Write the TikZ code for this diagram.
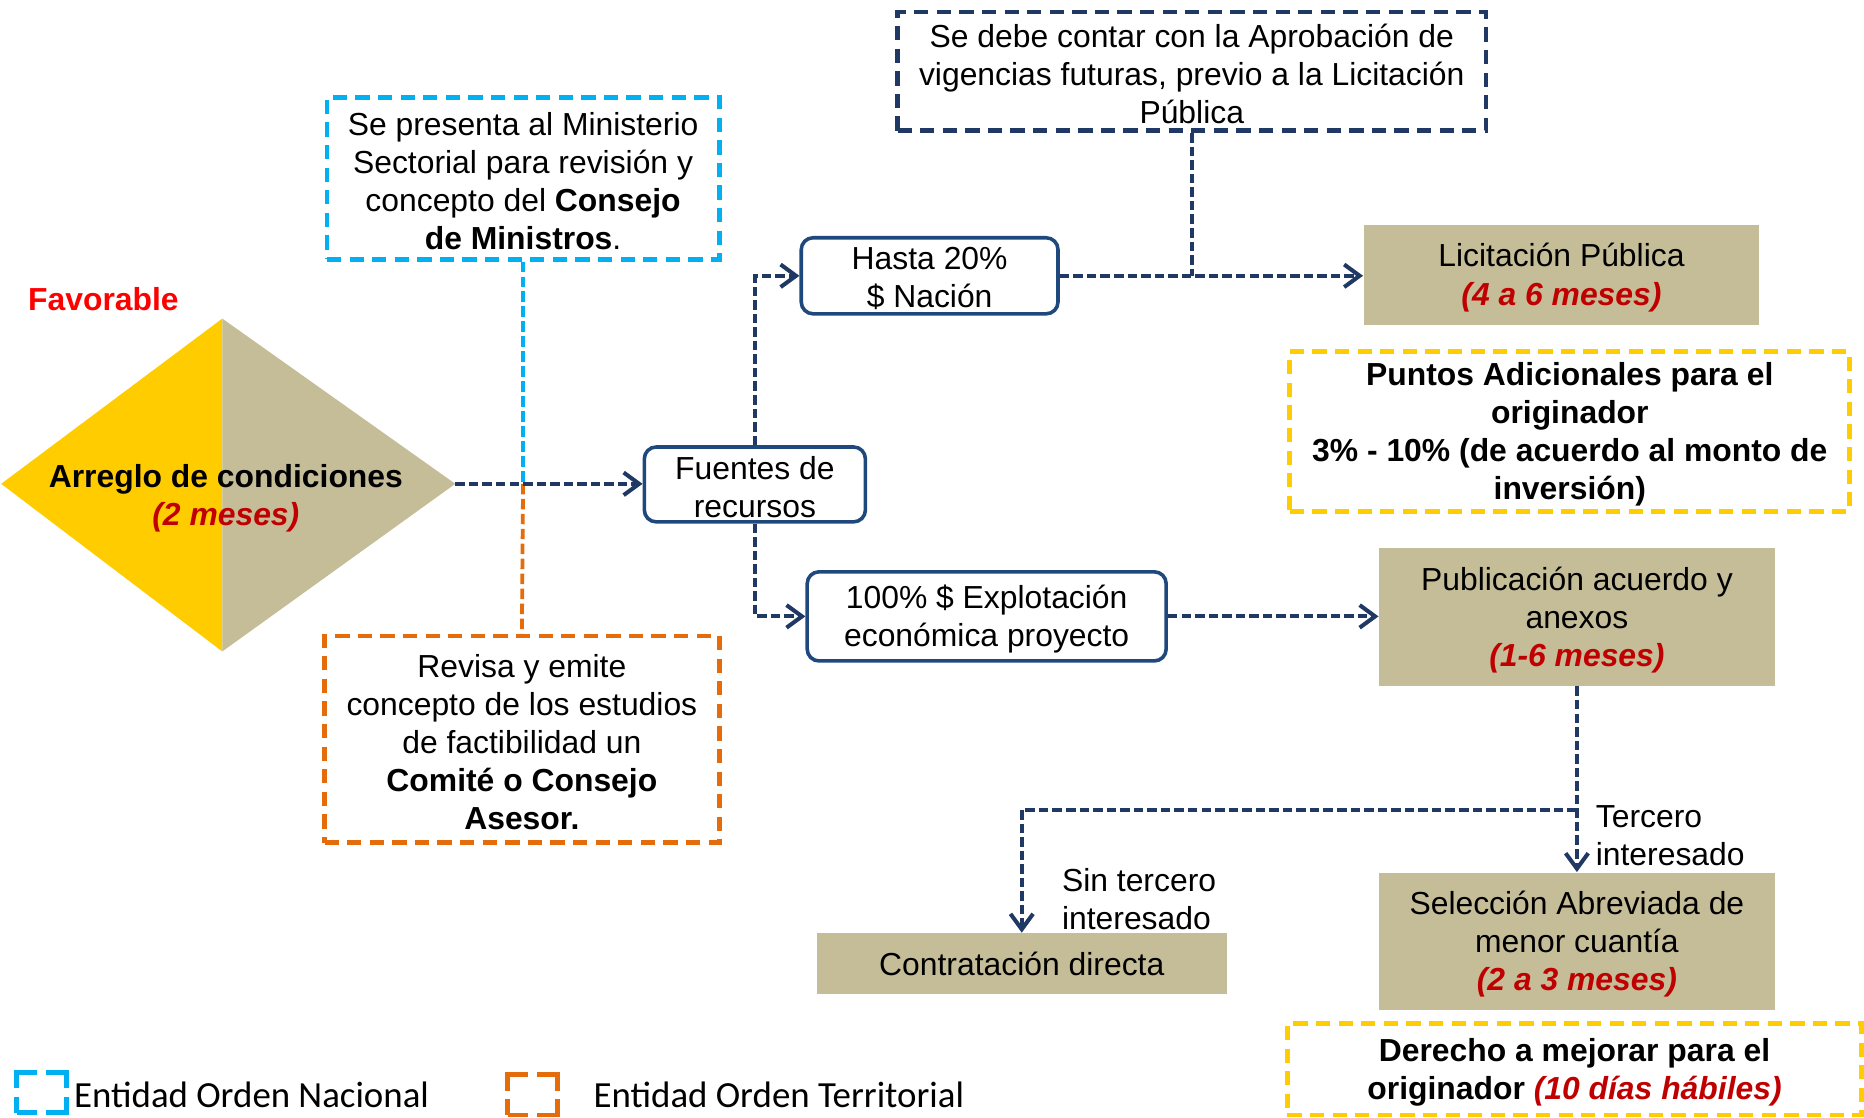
\documentclass[tikz,border=0pt]{standalone}
\usepackage{fontspec}
\setmainfont{Liberation Sans}
\newfontfamily\legfont{Carlito}
\usetikzlibrary{arrows.meta}
\definecolor{navy}{HTML}{1F3864}
\definecolor{boxblue}{HTML}{1F497D}
\definecolor{tanc}{HTML}{C4BD97}
\definecolor{gold}{HTML}{FFCC00}
\definecolor{cyanb}{HTML}{00B0F0}
\definecolor{orangeb}{HTML}{E46C0A}
\definecolor{darkred}{HTML}{C00000}
\newcommand{\redit}[1]{\textcolor{darkred}{\textbf{\textit{#1}}}}
\tikzset{
  txt/.style={font=\fontsize{13.4}{16}\selectfont, align=center, text=black, inner sep=0pt},
  dbox/.style={line width=2pt, dash pattern=on 6pt off 3.5pt, inner sep=0pt},
  tanbox/.style={fill=tanc, inner sep=0pt},
  rbox/.style={draw=boxblue, line width=1.5pt, rounded corners=5pt, fill=white, inner sep=0pt},
  conn/.style={draw=navy, line width=1.7pt, dash pattern=on 4pt off 1.7pt},
  arr/.style={conn, -{Straight Barb[length=6.5pt,width=9.5pt]}},
  vline/.style={line width=1.6pt, dash pattern=on 4.4pt off 1.9pt},
  legsq/.style={line width=2pt, dash pattern=on 15.5pt off 3.5pt, dash phase=6.75pt, minimum width=21pt, minimum height=17pt, inner sep=0pt},
  legtxt/.style={font=\legfont\fontsize{15.5}{18}\selectfont, anchor=west, inner sep=0pt}
}
\newcommand{\boxtext}[3][]{\node[txt,#1] (#2T) at ([yshift=-1.25pt]#2.center) {#3};}
\begin{document}
\begin{tikzpicture}[x=0.5pt,y=-0.5pt]
\useasboundingbox (0,0) rectangle (1568,940);

% diamond
\fill[gold] (1,407) -- (187,268) -- (187,548) -- cycle;
\fill[tanc] (187,268) -- (383,407) -- (187,548) -- cycle;
\coordinate (diaR) at (383,407);
\coordinate (diaC) at (190,417);
\node[txt, font=\fontsize{13.4}{16}\selectfont\bfseries] (dia) at ([yshift=-1.25pt]diaC) {Arreglo de condiciones\\\redit{(2 meses)}};
\node[txt, font=\fontsize{13.4}{16}\selectfont\bfseries, text=red] (fav) at (87,252) {Favorable};

% dashed boxes
\node[dbox, draw=cyanb, minimum width=165pt, minimum height=68pt] (cyanbox) at (440,150) {};
\boxtext{cyanbox}{Se presenta al Ministerio\\Sectorial para revisión y\\concepto del \textbf{Consejo}\\\textbf{de Ministros}.}
\node[dbox, draw=orangeb, minimum width=166pt, minimum height=87pt] (orangebox) at (439,622) {};
\boxtext{orangebox}{Revisa y emite\\concepto de los estudios\\de factibilidad un\\\textbf{Comité o Consejo}\\\textbf{Asesor.}}
\node[dbox, draw=navy, minimum width=247.5pt, minimum height=50pt] (topbox) at (1002.5,60) {};
\boxtext{topbox}{Se debe contar con la Aprobación de\\vigencias futuras, previo a la Licitación\\Pública}
\node[dbox, draw=gold, minimum width=235.5pt, minimum height=67pt] (puntos) at (1320.5,363) {};
\boxtext[font=\fontsize{13.4}{16}\selectfont\bfseries]{puntos}{Puntos Adicionales para el\\originador\\3\% - 10\% (de acuerdo al monto de\\inversión)}
\node[dbox, draw=gold, minimum width=241.5pt, minimum height=38.5pt] (derecho) at (1324.5,899.5) {};
\boxtext{derecho}{\textbf{Derecho a mejorar para el}\\\textbf{originador} \redit{(10 días hábiles)}}

% rounded boxes
\node[rbox, minimum width=93pt, minimum height=31.5pt] (fuentes) at (635,407.5) {};
\boxtext{fuentes}{Fuentes de\\recursos}
\node[rbox, minimum width=108pt, minimum height=32pt] (hasta) at (782,232) {};
\boxtext{hasta}{Hasta 20\%\\\$ Nación}
\node[rbox, minimum width=151pt, minimum height=37.5pt] (expl) at (830,518.5) {};
\boxtext{expl}{100\% \$ Explotación\\económica proyecto}

% tan boxes
\node[tanbox, minimum width=166.5pt, minimum height=42pt] (licit) at (1313.5,231) {};
\boxtext{licit}{Licitación Pública\\\redit{(4 a 6 meses)}}
\node[tanbox, minimum width=166.5pt, minimum height=58pt] (publ) at (1326.5,519) {};
\boxtext{publ}{Publicación acuerdo y\\anexos\\\redit{(1-6 meses)}}
\node[tanbox, minimum width=172.5pt, minimum height=25.5pt] (contrat) at (859.5,810.5) {};
\node[txt] (contratT) at (contrat.center) {Contratación directa};
\node[tanbox, minimum width=166.5pt, minimum height=58pt] (selec) at (1326.5,792) {};
\boxtext{selec}{Selección Abreviada de\\menor cuantía\\\redit{(2 a 3 meses)}}

% vertical coloured lines
\coordinate (cross) at (cyanbox.south |- diaR);
\draw[vline, cyanb] (cyanbox.south) -- (cross);
\draw[vline, orangeb] (cross) -- (orangebox.north);

% connectors
\draw[arr] (diaR) -- (diaR -| fuentes.west);
\draw[arr] (fuentes.north) |- (hasta.west);
\draw[arr] (fuentes.south) |- (expl.west);
\draw[arr] (hasta.east) -- (hasta.east -| licit.west);
\draw[conn] (topbox.south) -- (topbox.south |- hasta.east);
\draw[arr] (expl.east) -- (expl.east -| publ.west);
\draw[arr] (publ.south) -- (selec.north);
\coordinate (branch) at (1326.5,681);
\draw[arr] (branch) -| (contrat.north);

% labels
\node[txt, align=left, anchor=west] (lterc) at (1342,703) {Tercero\\interesado};
\node[txt, align=left, anchor=west] (lsin) at (893,756) {Sin tercero\\interesado};

% legend
\node[legsq, draw=cyanb] (leg1) at (35,919) {};
\node[legtxt] (leg1t) at (62,921) {Entidad Orden Nacional};
\node[legsq, draw=orangeb] (leg2) at (448,921) {};
\node[legtxt] (leg2t) at (499,921) {Entidad Orden Territorial};
\end{tikzpicture}
\end{document}
